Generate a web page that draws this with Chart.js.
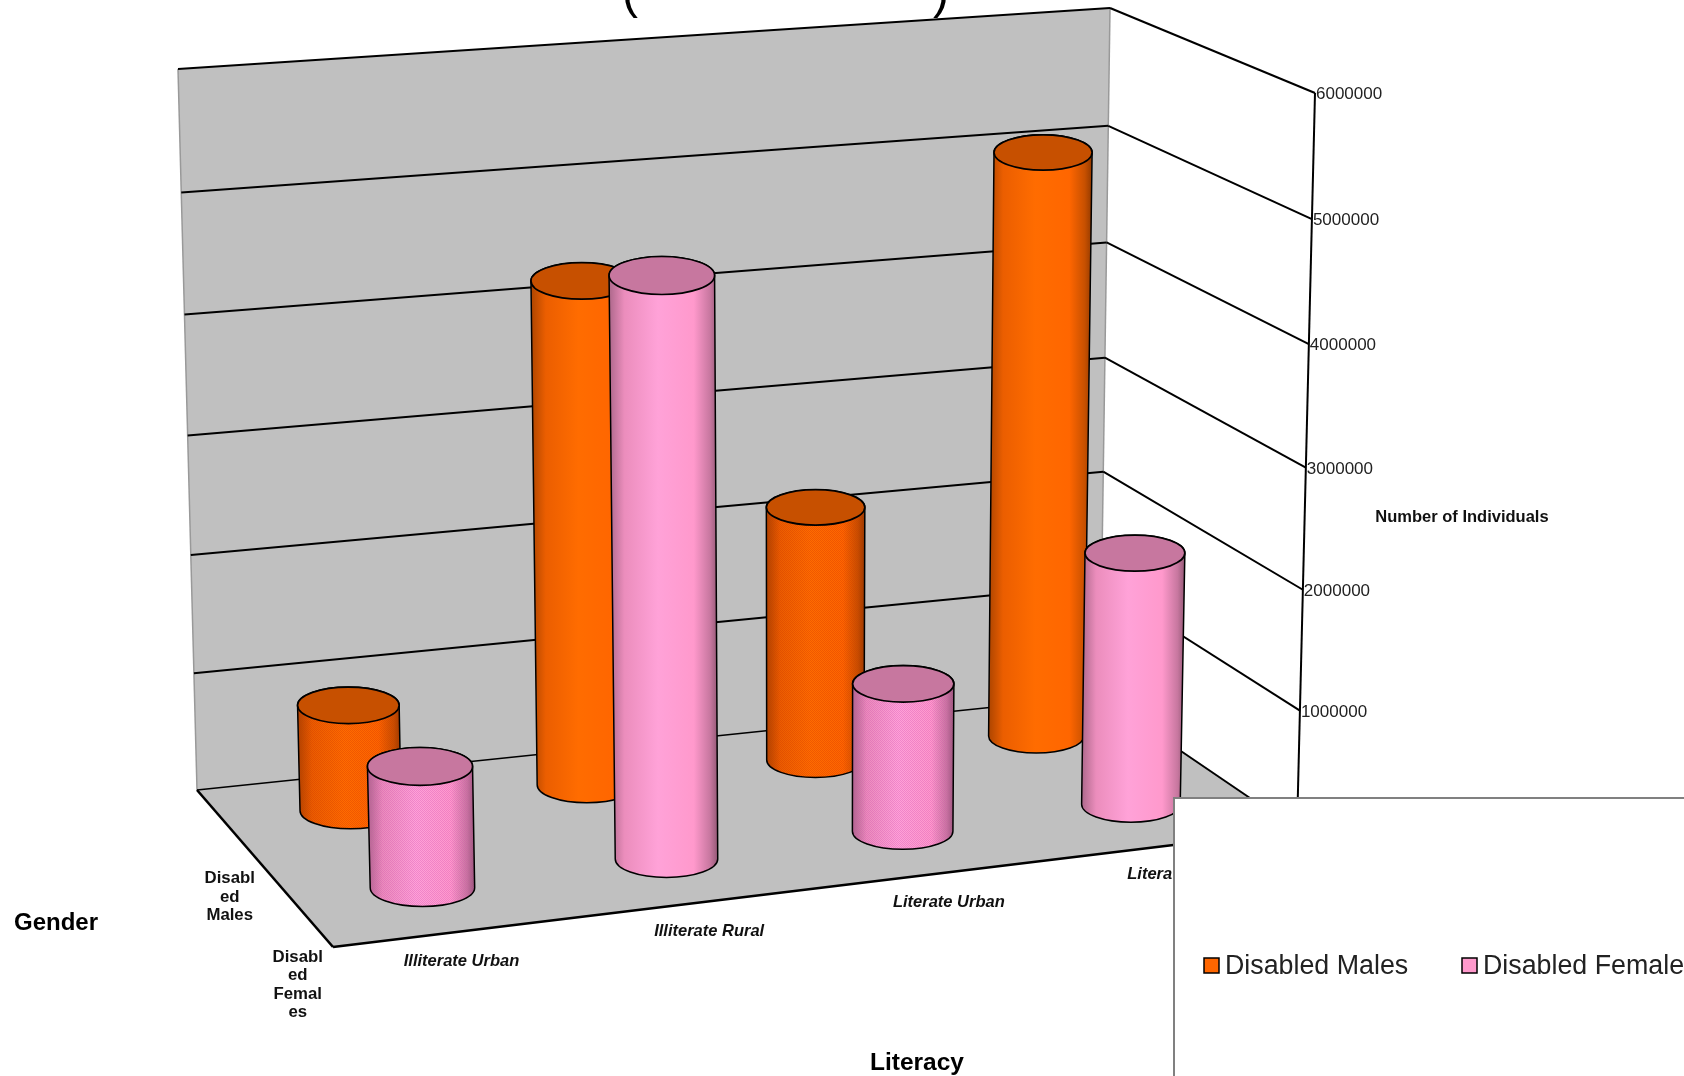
<!DOCTYPE html>
<html>
<head>
<meta charset="utf-8">
<script src="https://cdn.jsdelivr.net/npm/chart.js@4/dist/chart.umd.min.js"></script>
<style>
html,body{margin:0;padding:0;background:#fff;overflow:hidden}
canvas{display:block;filter:blur(0.4px)}
</style>
</head>
<body>
<canvas id="c" width="1684" height="1076"></canvas>
<script>
const categories = ['Illiterate Urban', 'Illiterate Rural', 'Literate Urban', 'Literate Rural'];
const maleValues = [890000, 4230000, 2170000, 4990000];
const femaleValues = [990000, 4720000, 1230000, 2110000];
const valueTicks = [0, 1000000, 2000000, 3000000, 4000000, 5000000, 6000000];
const depthLabels = [['Disabl', 'ed', 'Males'], ['Disabl', 'ed', 'Femal', 'es']];
const ditheredCategories = ['Illiterate Urban', 'Literate Urban'];
const seriesNames = ['Disabled Males', 'Disabled Females'];
const valueAxisTitle = 'Number of Individuals';
const categoryAxisTitle = 'Literacy';
const depthAxisTitle = 'Gender';

/* View box of the 3D chart: screen position of the eight cube corners */
const VIEW = {
  b00: [197, 790], b01: [178, 69], b10: [1100, 696], b11: [1110, 8],
  f00: [333, 947], f01: [313, 175], f10: [1297, 830], f11: [1315, 93]
};
const FONT = '"Liberation Sans", Arial, sans-serif';
const FLOOR_LIFT = 9;

function project(u, v, w) {
  const vv = v - 0.033 * v * (1 - v);
  const mix = (a, b, t) => [a[0] + (b[0] - a[0]) * t, a[1] + (b[1] - a[1]) * t];
  const back = mix(mix(VIEW.b00, VIEW.b01, vv), mix(VIEW.b10, VIEW.b11, vv), u);
  const front = mix(mix(VIEW.f00, VIEW.f01, vv), mix(VIEW.f10, VIEW.f11, vv), u);
  return mix(back, front, w);
}
/* the camera stretches the middle of the category axis a little */
const warpU = u => u + 0.0665 * u * (1 - u) - 0.0056 * u - 0.0045;

function shade(hex, f) {
  const n = parseInt(hex.slice(1), 16);
  const c = [n >> 16, (n >> 8) & 255, n & 255].map(x => Math.min(255, Math.round(x * f)));
  return `rgb(${c[0]},${c[1]},${c[2]})`;
}
function ditherPattern(ctx, color) {
  const n = parseInt(color.slice(1), 16);
  const p = document.createElement('canvas');
  p.width = 2; p.height = 2;
  const g = p.getContext('2d');
  g.fillStyle = `rgb(${Math.round((n >> 16) * 0.8)},${Math.round(((n >> 8) & 255) * 0.45)},${Math.round((n & 255) * 0.85)})`;
  g.globalAlpha = 0.3;
  g.fillRect(0, 0, 1, 1);
  g.fillRect(1, 1, 1, 1);
  return ctx.createPattern(p, 'repeat');
}

/* A bar controller whose elements keep the library's geometry but paint as 3D cylinders */
class CylinderController extends Chart.BarController {
  draw() {
    const chart = this.chart, ctx = chart.ctx, area = chart.chartArea;
    const ds = this.getDataset();
    const color = ds.backgroundColor;
    this._cachedMeta.data.forEach((el, i) => {
      const u0 = (el.x - area.left) / area.width;
      const u = warpU(u0);
      const du = el.width / 2 / area.width;
      const vTop = (area.bottom - el.y) / area.height;
      const w = ds.depth;
      const top = project(u, vTop, w), bot = project(u, 0, w);
      top[1] -= FLOOR_LIFT; bot[1] -= FLOOR_LIFT;
      const narrow = 1.009 - 0.075 * u0;
      const rxT = (project(u + du, vTop, w)[0] - project(u - du, vTop, w)[0]) / 2 * narrow;
      const rxB = (project(u + du, 0, w)[0] - project(u - du, 0, w)[0]) / 2 * narrow;
      const ryT = rxT * 0.36, ryB = rxB * 0.36;

      const side = () => {
        ctx.beginPath();
        ctx.moveTo(top[0] - rxT, top[1]);
        ctx.lineTo(bot[0] - rxB, bot[1]);
        ctx.ellipse(bot[0], bot[1], rxB, ryB, 0, Math.PI, 0, true);
        ctx.lineTo(top[0] + rxT, top[1]);
        ctx.ellipse(top[0], top[1], rxT, ryT, 0, 0, Math.PI, true);
        ctx.closePath();
      };
      ctx.save();
      const gx0 = Math.min(top[0] - rxT, bot[0] - rxB), gx1 = Math.max(top[0] + rxT, bot[0] + rxB);
      const g = ctx.createLinearGradient(gx0, 0, gx1, 0);
      g.addColorStop(0, shade(color, 0.68));
      g.addColorStop(0.14, shade(color, 0.92));
      g.addColorStop(0.45, shade(color, 1.06));
      g.addColorStop(0.78, color);
      g.addColorStop(0.93, shade(color, 0.78));
      g.addColorStop(1, shade(color, 0.58));
      side();
      ctx.fillStyle = g;
      ctx.fill();
      if (ditheredCategories.includes(categories[i])) {
        ctx.fillStyle = ditherPattern(ctx, color);
        ctx.fill();
      }
      ctx.strokeStyle = '#000';
      ctx.lineWidth = 1.5;
      side();
      ctx.stroke();
      ctx.beginPath();
      ctx.ellipse(top[0], top[1], rxT, ryT, 0, 0, Math.PI * 2);
      ctx.fillStyle = shade(color, 0.78);
      ctx.fill();
      ctx.lineWidth = 1.7;
      ctx.stroke();
      ctx.restore();
    });
  }
}
CylinderController.id = 'cylinder';
CylinderController.defaults = { dataElementType: 'bar' };
CylinderController.overrides = Chart.BarController.overrides;
Chart.register(CylinderController);

function line(ctx, a, b, color, width) {
  ctx.beginPath();
  ctx.moveTo(a[0], a[1]);
  ctx.lineTo(b[0], b[1]);
  ctx.strokeStyle = color;
  ctx.lineWidth = width;
  ctx.stroke();
}
function poly(ctx, pts, fill) {
  ctx.beginPath();
  pts.forEach((p, i) => i ? ctx.lineTo(p[0], p[1]) : ctx.moveTo(p[0], p[1]));
  ctx.closePath();
  ctx.fillStyle = fill;
  ctx.fill();
}
function text(ctx, s, x, y, font, color, align) {
  ctx.font = font;
  ctx.fillStyle = color;
  ctx.textAlign = align || 'center';
  ctx.textBaseline = 'middle';
  ctx.fillText(s, x, y + 1.5);
}

const box3d = {
  id: 'box3d',
  beforeDatasetsDraw(chart) {
    const ctx = chart.ctx, a = chart.chartArea, yS = chart.scales.y;
    ctx.save();
    ctx.fillStyle = '#fff';
    ctx.fillRect(0, 0, chart.width, chart.height);
    poly(ctx, [project(0, 0, 0), project(0, 1, 0), project(1, 1, 0), project(1, 0, 0)], '#C0C0C0');
    poly(ctx, [project(0, 0, 0), project(1, 0, 0), project(1, 0, 1), project(0, 0, 1)], '#C0C0C0');
    line(ctx, project(0, 0, 0), project(0, 1, 0), '#999', 1.5);
    line(ctx, project(1, 0, 0), project(1, 1, 0), '#999', 1.5);
    valueTicks.forEach(t => {
      const v = (a.bottom - yS.getPixelForValue(t)) / a.height;
      line(ctx, project(0, v, 0), project(1, v, 0), '#000', t === 0 ? 1.4 : 2);
      line(ctx, project(1, v, 0), project(1, v, 1), '#000', 2);
    });
    line(ctx, project(1, 0, 1), project(1, 1, 1), '#000', 2);
    line(ctx, project(0, 0, 0), project(0, 0, 1), '#000', 2.6);
    line(ctx, project(0, 0, 1), project(1, 0, 1), '#000', 2.6);
    ctx.restore();
  },
  afterDatasetsDraw(chart) {
    const ctx = chart.ctx, a = chart.chartArea, yS = chart.scales.y, xS = chart.scales.x;
    ctx.save();
    /* title, cut off by the top of the picture */
    text(ctx, '(', 630, -6.5, `48px ${FONT}`, '#000');
    text(ctx, ')', 941, -6.5, `48px ${FONT}`, '#000');

    valueTicks.forEach(t => {
      if (t === 0) return;
      const v = (a.bottom - yS.getPixelForValue(t)) / a.height;
      const p = project(1, v, 1);
      text(ctx, String(t), p[0] + 1, p[1], `17px ${FONT}`, '#222', 'left');
    });
    text(ctx, valueAxisTitle, 1462, 516, `bold 16.5px ${FONT}`, '#111');

    categories.forEach((c, i) => {
      const u = warpU((xS.getPixelForValue(i) - a.left) / a.width);
      const p = project(u, 0, 1);
      text(ctx, c, p[0] + 6, p[1] + 28, `italic bold 16.5px ${FONT}`, '#111');
    });
    chart.data.datasets.forEach((ds, i) => {
      const p = project(0, 0, ds.depth);
      depthLabels[i].forEach((s, k) => {
        text(ctx, s, p[0] - 4, p[1] + 44.5 + k * 18.5, `bold 16.8px ${FONT}`, '#111');
      });
    });
    text(ctx, depthAxisTitle, 56, 922, `bold 24px ${FONT}`, '#000');
    text(ctx, categoryAxisTitle, 917, 1062, `bold 24.5px ${FONT}`, '#000');

    /* legend panel */
    ctx.fillStyle = '#fff';
    ctx.fillRect(1175, 798, 520, 290);
    ctx.strokeStyle = '#808080';
    ctx.lineWidth = 2;
    ctx.strokeRect(1174, 798, 530, 300);
    const lx = [1204, 1462];
    chart.data.datasets.forEach((ds, i) => {
      ctx.fillStyle = ds.backgroundColor;
      ctx.fillRect(lx[i], 958, 15, 15);
      ctx.strokeStyle = '#000';
      ctx.lineWidth = 1.5;
      ctx.strokeRect(lx[i], 958, 15, 15);
      text(ctx, ds.label, lx[i] + 21, 965.5, `26.8px ${FONT}`, '#222', 'left');
    });
    ctx.restore();
  }
};

new Chart(document.getElementById('c'), {
  type: 'cylinder',
  plugins: [box3d],
  data: {
    labels: categories,
    datasets: [
      { label: seriesNames[0], data: maleValues, backgroundColor: '#FF6600', depth: 0.27, order: 1, grouped: false, barPercentage: 0.44, categoryPercentage: 1 },
      { label: seriesNames[1], data: femaleValues, backgroundColor: '#FF99CC', depth: 0.77, order: 0, grouped: false, barPercentage: 0.44, categoryPercentage: 1 }
    ]
  },
  options: {
    responsive: false,
    animation: false,
    layout: { padding: 0 },
    plugins: { legend: { display: false }, tooltip: { enabled: false }, title: { display: false } },
    scales: {
      x: { type: 'category', display: false, offset: true },
      y: { type: 'linear', display: false, min: 0, max: 6000000 }
    }
  }
});
</script>
</body>
</html>
